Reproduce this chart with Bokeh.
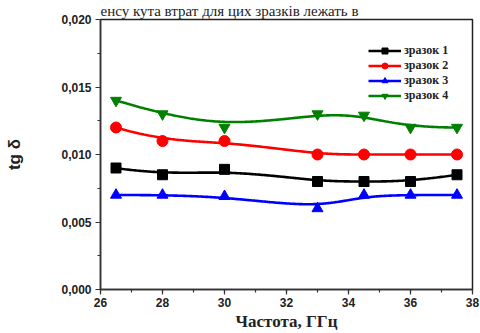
import numpy as np
from bokeh.plotting import figure
from bokeh.models import (FixedTicker, CustomJSTickFormatter, Legend, LegendItem,
                          Range1d, Title)
from bokeh.embed import file_html
from bokeh.resources import INLINE

# ---- data ----
freq = [26.5, 28, 30, 33, 34.5, 36, 37.5]
sample1 = [0.0090, 0.0085, 0.0089, 0.0080, 0.0080, 0.0080, 0.0085]
sample2 = [0.0120, 0.0110, 0.0110, 0.0100, 0.0100, 0.0100, 0.0100]
sample3 = [0.0070, 0.0070, 0.0069, 0.0060, 0.0070, 0.0070, 0.0070]
sample4 = [0.0140, 0.0130, 0.0120, 0.0130, 0.0129, 0.0120, 0.0120]
series_names = ["зразок 1", "зразок 2", "зразок 3", "зразок 4"]
x_ticks = [26, 28, 30, 32, 34, 36, 38]
y_ticks = [0.0, 0.005, 0.010, 0.015, 0.020]
page_text = "енсу кута втрат для цих зразків лежать в"

SERIF = "Liberation Serif"
SANS = "Liberation Sans"


def bspline(xs, ys, n=300, k=3):
    """Clamped cubic B-spline using data points as control points (smooth connector)."""
    P = np.column_stack([xs, ys]).astype(float)
    m = len(P)
    knots = np.concatenate([[0] * k, np.arange(m - k + 1), [m - k] * k]).astype(float)
    t = np.linspace(0, m - k, n)
    N = np.zeros((n, len(knots) - 1))
    for i in range(len(knots) - 1):
        N[:, i] = ((t >= knots[i]) & (t < knots[i + 1])).astype(float)
    N[-1, m - 1] = 1.0
    for d in range(1, k + 1):
        Nn = np.zeros((n, len(knots) - 1 - d))
        for i in range(len(knots) - 1 - d):
            a = knots[i + d] - knots[i]
            b = knots[i + d + 1] - knots[i + 1]
            term = np.zeros(n)
            if a > 0:
                term += (t - knots[i]) / a * N[:, i]
            if b > 0:
                term += (knots[i + d + 1] - t) / b * N[:, i + 1]
            Nn[:, i] = term
        N = Nn
    C = N @ P
    return C[:, 0], C[:, 1]


W, H = 480, 333
p = figure(width=W, height=H, output_backend="svg", toolbar_location=None,
           x_range=Range1d(26, 38), y_range=Range1d(0, 0.020),
           min_border_left=100, min_border_right=8,
           min_border_top=19, min_border_bottom=44)
p.background_fill_color = "white"
p.border_fill_color = "white"
p.grid.visible = False
p.outline_line_color = "#222222"
p.outline_line_width = 1.5

p.xaxis.ticker = FixedTicker(ticks=x_ticks, minor_ticks=list(range(26, 39)))
p.yaxis.ticker = FixedTicker(ticks=y_ticks,
                             minor_ticks=[0.0025 * i for i in range(9)])
p.yaxis.formatter = CustomJSTickFormatter(code="return tick.toFixed(3).replace('.', ',');")
p.xaxis.formatter = CustomJSTickFormatter(code="return tick.toFixed(0);")
for ax in (p.xaxis[0], p.yaxis[0]):
    ax.axis_line_color = "#333333"
    ax.axis_line_width = 1.5
    ax.major_tick_line_color = "#333333"
    ax.minor_tick_line_color = "#333333"
    ax.major_tick_line_width = 1.2
    ax.minor_tick_line_width = 1.2
    ax.major_tick_out = 5
    ax.major_tick_in = 0
    ax.minor_tick_out = 3
    ax.minor_tick_in = 0
    ax.major_label_text_font = SANS
    ax.major_label_text_font_style = "bold"
    ax.major_label_text_font_size = "12px"
    ax.major_label_text_color = "#222222"
    ax.major_label_standoff = 4
    ax.axis_label_text_color = "#222222"
    ax.axis_label_text_font_style = "bold"

p.xaxis.major_label_standoff = 3
p.xaxis.axis_label = "Частота, ГГц"
p.xaxis.axis_label_text_font = SERIF
p.xaxis.axis_label_text_font_size = "17px"
p.xaxis.axis_label_standoff = 2
p.yaxis.axis_label = "tg δ"
p.yaxis.axis_label_text_font = SANS
p.yaxis.axis_label_text_font_size = "17px"
p.yaxis.axis_label_standoff = 34

colors = ["#000000", "#ff0000", "#0000ff", "#008000"]
markers = ["square", "circle", "triangle", "inverted_triangle"]
msizes = [10, 11, 11, 11]
data = [sample1, sample2, sample3, sample4]

items = []
for name, ys, c, mk, ms in zip(series_names, data, colors, markers, msizes):
    sx, sy = bspline(freq, ys)
    r1 = p.line(sx, sy, line_color=c, line_width=2.6)
    r2 = p.scatter(freq, ys, marker=mk, size=ms, fill_color=c, line_color=c)
    items.append(LegendItem(label=name, renderers=[r1, r2]))

legend = Legend(items=items, location=(268, 186))
legend.background_fill_alpha = 0
legend.border_line_alpha = 0
legend.padding = 0
legend.margin = 0
legend.spacing = 0
legend.glyph_width = 33
legend.glyph_height = 15
legend.label_height = 15
legend.label_standoff = 3
legend.label_text_font = SERIF
legend.label_text_font_style = "bold"
legend.label_text_font_size = "12px"
legend.label_text_color = "#222222"
p.add_layout(legend)

# line of page text above the chart
p.add_layout(Title(text=page_text, align="left", text_font=SERIF,
                   text_font_style="normal", text_font_size="15px",
                   vertical_align="middle",
                   text_color="#222222", standoff=0, offset=0), "above")

open("out.html", "w").write(file_html(p, INLINE))
